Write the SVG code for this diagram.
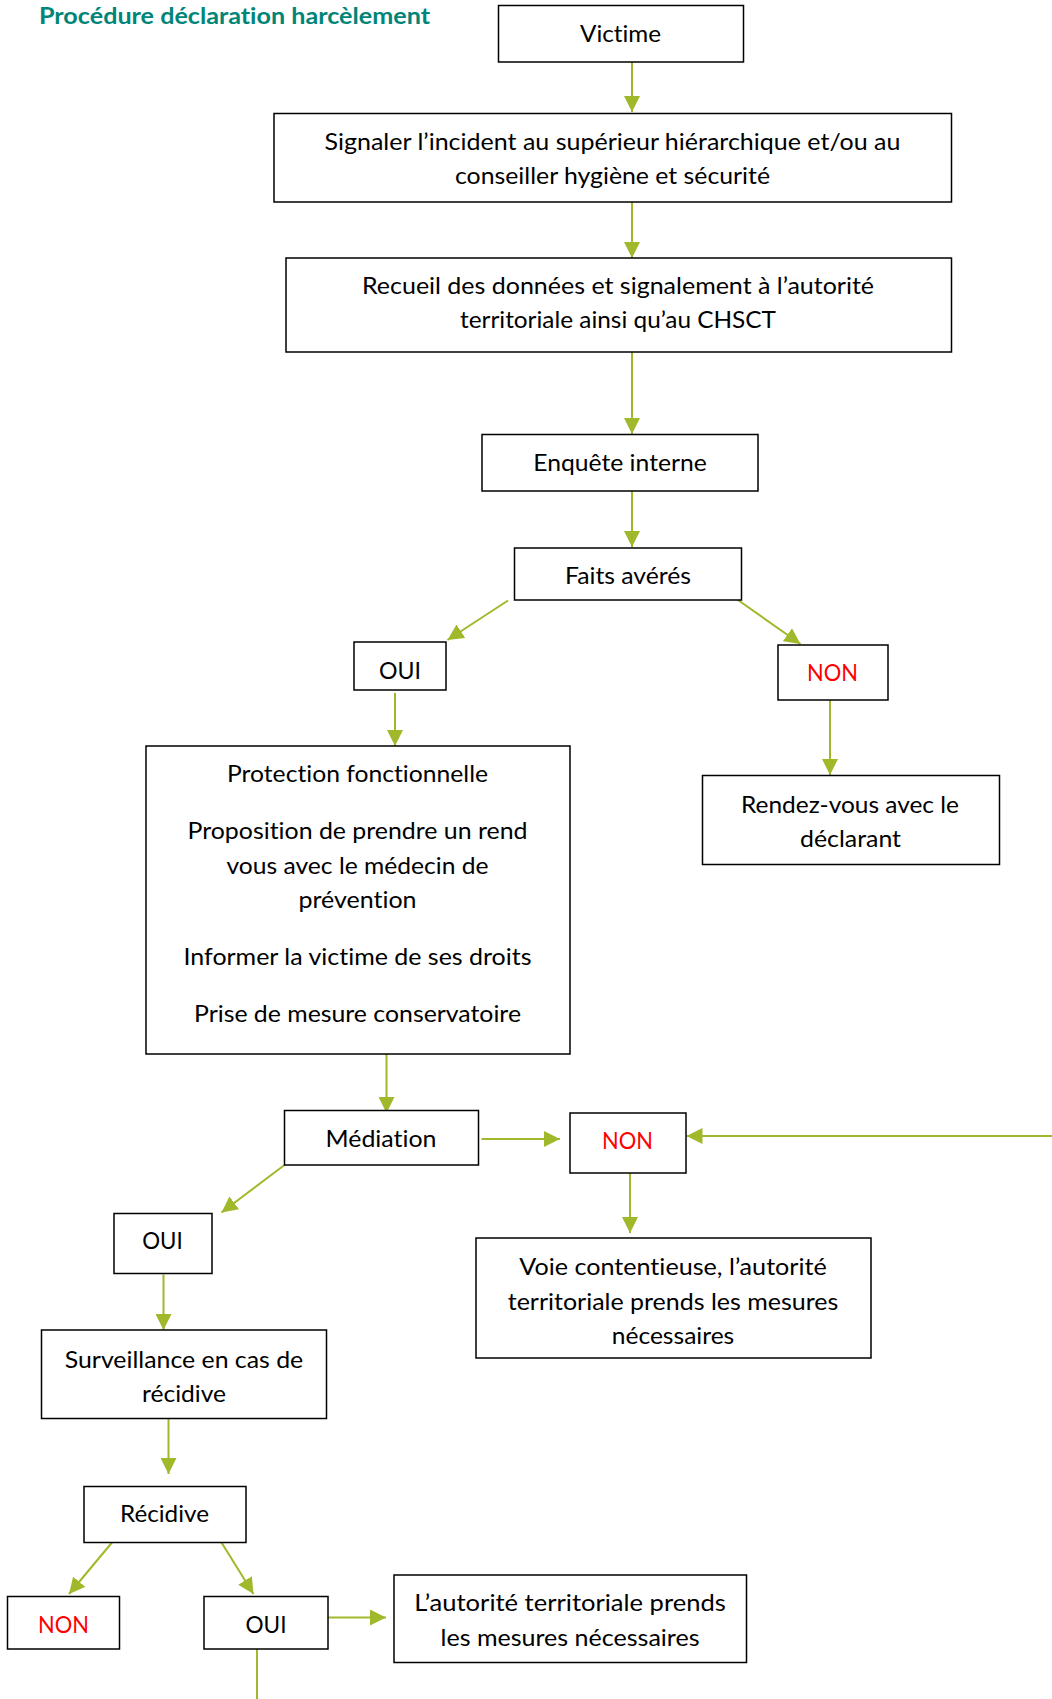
<svg xmlns="http://www.w3.org/2000/svg" width="1052" height="1699" viewBox="0 0 1052 1699">
<style>
.box{fill:#fff;stroke:#000;stroke-width:1.5}
.t{font-family:Lato,"Open Sans","Liberation Sans",sans-serif;font-size:23px;fill:#000;text-anchor:middle;font-variant-ligatures:none}
.red{fill:#ff0000}
.c{stroke:#a0b92a;stroke-width:2;fill:none}
.title{font-family:Lato,"Open Sans","Liberation Sans",sans-serif;font-size:22.5px;font-weight:bold;fill:#008578;font-variant-ligatures:none}
</style>
<defs>
<marker id="ah" markerUnits="userSpaceOnUse" markerWidth="16" markerHeight="16" refX="16" refY="8" orient="auto" viewBox="0 0 16 16">
<path d="M0,0 L16,8 L0,16 Z" fill="#a0b92a"/>
</marker>
</defs>
<rect width="1052" height="1699" fill="#fff"/>
<text class="title" x="39" y="24" textLength="391" lengthAdjust="spacingAndGlyphs">Procédure déclaration harcèlement</text>

<g id="connectors">
<line class="c" x1="632" y1="62" x2="632" y2="112" marker-end="url(#ah)"/>
<line class="c" x1="632" y1="202" x2="632" y2="258" marker-end="url(#ah)"/>
<line class="c" x1="632" y1="352" x2="632" y2="434" marker-end="url(#ah)"/>
<line class="c" x1="632" y1="491" x2="632" y2="547" marker-end="url(#ah)"/>
<line class="c" x1="508" y1="600.5" x2="447.5" y2="640" marker-end="url(#ah)"/>
<line class="c" x1="736.5" y1="599" x2="800.5" y2="644" marker-end="url(#ah)"/>
<line class="c" x1="395" y1="693" x2="395" y2="746" marker-end="url(#ah)"/>
<line class="c" x1="830" y1="700" x2="830" y2="775" marker-end="url(#ah)"/>
<line class="c" x1="386.5" y1="1054" x2="386.5" y2="1113" marker-end="url(#ah)"/>
<line class="c" x1="481.5" y1="1139" x2="560" y2="1139" stroke-width="2.5" marker-end="url(#ah)"/>
<line class="c" x1="1052" y1="1136" x2="686.5" y2="1136" stroke-width="2.5" marker-end="url(#ah)"/>
<line class="c" x1="630" y1="1173" x2="630" y2="1233" marker-end="url(#ah)"/>
<line class="c" x1="284.5" y1="1165" x2="221.5" y2="1212.5" marker-end="url(#ah)"/>
<line class="c" x1="163.5" y1="1274.5" x2="163.5" y2="1330" marker-end="url(#ah)"/>
<line class="c" x1="168.5" y1="1418.5" x2="168.5" y2="1474" marker-end="url(#ah)"/>
<line class="c" x1="112" y1="1542.5" x2="69" y2="1594" marker-end="url(#ah)"/>
<line class="c" x1="221.5" y1="1542.5" x2="253.5" y2="1594" marker-end="url(#ah)"/>
<line class="c" x1="328" y1="1617.5" x2="386" y2="1617.5" stroke-width="2.5" marker-end="url(#ah)"/>
<line class="c" x1="257" y1="1649" x2="257" y2="1699"/>
</g>

<g id="victime">
<rect class="box" x="498.5" y="5.5" width="245" height="56.5"/>
<text class="t" x="620.5" y="42" textLength="81" lengthAdjust="spacingAndGlyphs">Victime</text>
</g>
<g id="signaler">
<rect class="box" x="274" y="113.5" width="677.5" height="88.5"/>
<text class="t" x="612.5" y="150" textLength="576" lengthAdjust="spacingAndGlyphs">Signaler l’incident au supérieur hiérarchique et/ou au</text>
<text class="t" x="612.5" y="184" textLength="315" lengthAdjust="spacingAndGlyphs">conseiller hygiène et sécurité</text>
</g>
<g id="recueil">
<rect class="box" x="286" y="258" width="665.5" height="94"/>
<text class="t" x="618" y="293.5" textLength="512" lengthAdjust="spacingAndGlyphs">Recueil des données et signalement à l’autorité</text>
<text class="t" x="618" y="328" textLength="316" lengthAdjust="spacingAndGlyphs">territoriale ainsi qu’au CHSCT</text>
</g>
<g id="enquete">
<rect class="box" x="482" y="434.5" width="276" height="56.5"/>
<text class="t" x="620" y="470.5" textLength="173.5" lengthAdjust="spacingAndGlyphs">Enquête interne</text>
</g>
<g id="faits">
<rect class="box" x="514.5" y="548" width="227" height="52"/>
<text class="t" x="628" y="583.5" textLength="126" lengthAdjust="spacingAndGlyphs">Faits avérés</text>
</g>
<g id="oui1">
<rect class="box" x="354" y="642" width="92" height="48"/>
<text class="t" x="400" y="678.5" textLength="42" lengthAdjust="spacingAndGlyphs">OUI</text>
</g>
<g id="non1">
<rect class="box" x="778" y="645" width="110" height="55"/>
<text class="t red" x="832.5" y="681" textLength="51" lengthAdjust="spacingAndGlyphs">NON</text>
</g>
<g id="protection">
<rect class="box" x="146" y="746" width="424" height="308"/>
<text class="t" x="357.5" y="782" textLength="261" lengthAdjust="spacingAndGlyphs">Protection fonctionnelle</text>
<text class="t" x="357.5" y="839" textLength="340" lengthAdjust="spacingAndGlyphs">Proposition de prendre un rend</text>
<text class="t" x="357.5" y="874" textLength="262" lengthAdjust="spacingAndGlyphs">vous avec le médecin de</text>
<text class="t" x="357.5" y="908" textLength="118" lengthAdjust="spacingAndGlyphs">prévention</text>
<text class="t" x="357.5" y="965" textLength="348" lengthAdjust="spacingAndGlyphs">Informer la victime de ses droits</text>
<text class="t" x="357.5" y="1022" textLength="327" lengthAdjust="spacingAndGlyphs">Prise de mesure conservatoire</text>
</g>
<g id="rendezvous">
<rect class="box" x="702.5" y="775.5" width="297" height="89"/>
<text class="t" x="850" y="813" textLength="218" lengthAdjust="spacingAndGlyphs">Rendez-vous avec le</text>
<text class="t" x="850.5" y="846.5" textLength="101" lengthAdjust="spacingAndGlyphs">déclarant</text>
</g>
<g id="mediation">
<rect class="box" x="284.5" y="1110.5" width="194" height="54.5"/>
<text class="t" x="381" y="1147" textLength="111" lengthAdjust="spacingAndGlyphs">Médiation</text>
</g>
<g id="non2">
<rect class="box" x="570" y="1113" width="116" height="60"/>
<text class="t red" x="627.5" y="1149" textLength="51" lengthAdjust="spacingAndGlyphs">NON</text>
</g>
<g id="voie">
<rect class="box" x="476" y="1238" width="395" height="120"/>
<text class="t" x="673" y="1274.5" textLength="307.5" lengthAdjust="spacingAndGlyphs">Voie contentieuse, l’autorité</text>
<text class="t" x="673" y="1309.5" textLength="330.5" lengthAdjust="spacingAndGlyphs">territoriale prends les mesures</text>
<text class="t" x="673" y="1344" textLength="122.5" lengthAdjust="spacingAndGlyphs">nécessaires</text>
</g>
<g id="oui2">
<rect class="box" x="114" y="1213.5" width="98" height="60"/>
<text class="t" x="162.5" y="1249" textLength="40.5" lengthAdjust="spacingAndGlyphs">OUI</text>
</g>
<g id="surveillance">
<rect class="box" x="41.5" y="1330" width="285" height="88.5"/>
<text class="t" x="184" y="1367.5" textLength="238.5" lengthAdjust="spacingAndGlyphs">Surveillance en cas de</text>
<text class="t" x="184" y="1402" textLength="84" lengthAdjust="spacingAndGlyphs">récidive</text>
</g>
<g id="recidive">
<rect class="box" x="84" y="1486.5" width="162" height="56"/>
<text class="t" x="164.5" y="1522" textLength="89" lengthAdjust="spacingAndGlyphs">Récidive</text>
</g>
<g id="non3">
<rect class="box" x="7.5" y="1596.5" width="112" height="52.5"/>
<text class="t red" x="63.5" y="1633" textLength="51" lengthAdjust="spacingAndGlyphs">NON</text>
</g>
<g id="oui3">
<rect class="box" x="204" y="1596.5" width="124" height="52.5"/>
<text class="t" x="266" y="1633" textLength="41" lengthAdjust="spacingAndGlyphs">OUI</text>
</g>
<g id="autorite">
<rect class="box" x="394" y="1575" width="352.5" height="87.5"/>
<text class="t" x="570" y="1610.5" textLength="311.5" lengthAdjust="spacingAndGlyphs">L’autorité territoriale prends</text>
<text class="t" x="570" y="1646" textLength="259" lengthAdjust="spacingAndGlyphs">les mesures nécessaires</text>
</g>
</svg>
